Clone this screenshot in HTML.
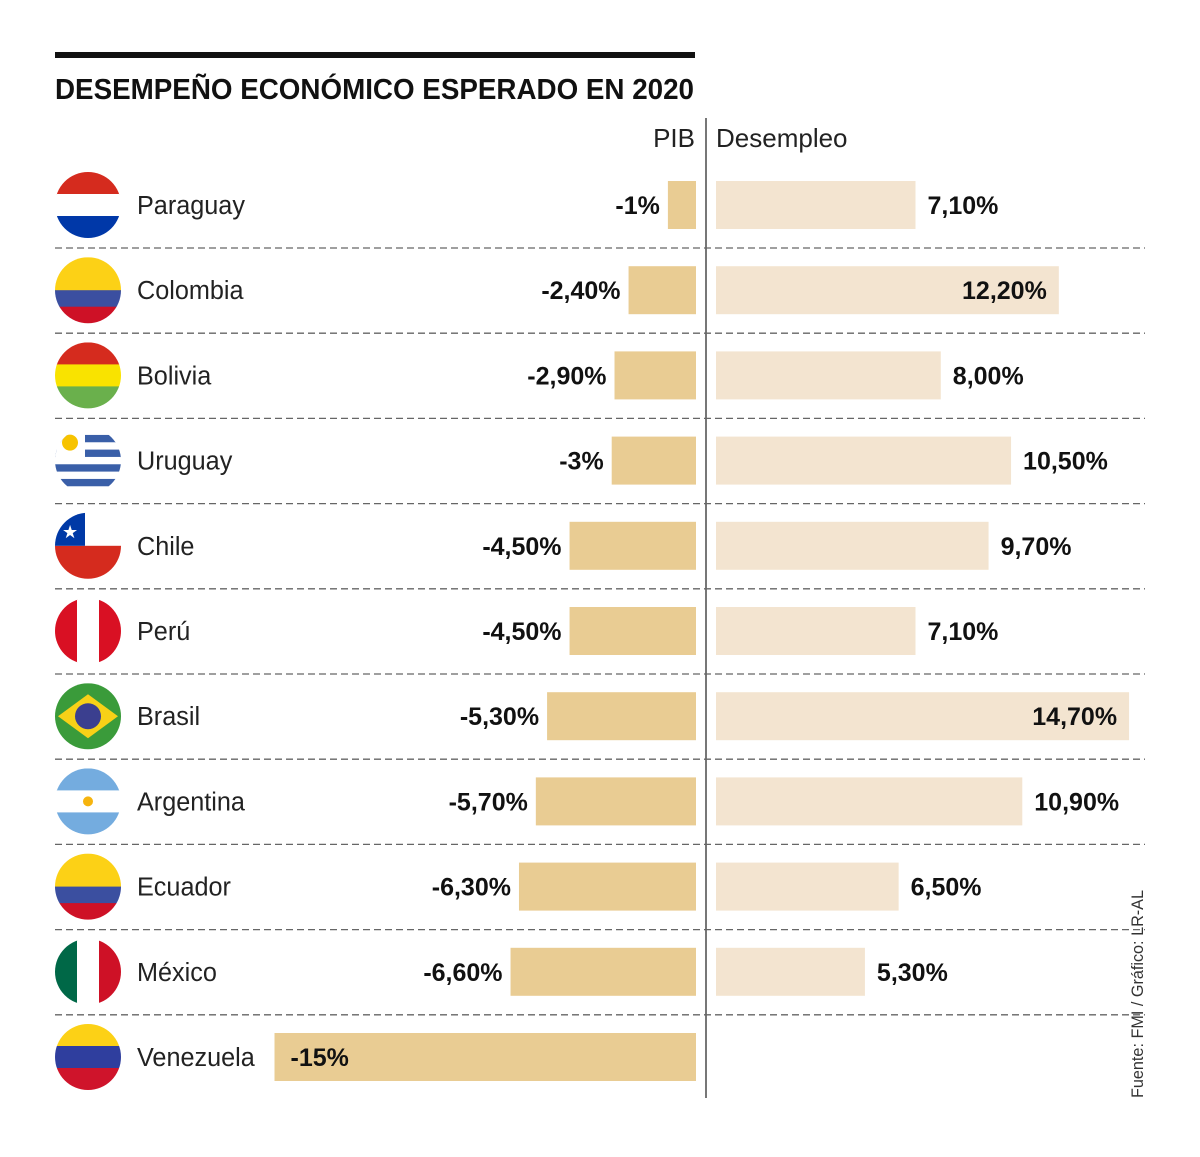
<!DOCTYPE html>
<html><head><meta charset="utf-8"><style>
body{margin:0;background:#fff;font-family:"Liberation Sans",sans-serif}
svg text{font-family:"Liberation Sans",sans-serif}
</style></head><body>
<svg id="c" width="1200" height="1152" xmlns="http://www.w3.org/2000/svg">
<defs><clipPath id="cc"><circle cx="0" cy="0" r="33"/></clipPath></defs>
<rect x="55" y="52" width="640" height="6" fill="#111"/>
<text x="55" y="99" font-size="29" font-weight="bold" fill="#111" textLength="639" lengthAdjust="spacingAndGlyphs">DESEMPEÑO ECONÓMICO ESPERADO EN 2020</text>
<text x="695" y="147" font-size="26" text-anchor="end" fill="#222">PIB</text>
<text x="716" y="147" font-size="26" fill="#222">Desempleo</text>
<line x1="706" y1="118" x2="706" y2="1098" stroke="#777" stroke-width="2"/>
<text transform="translate(1143,1098) rotate(-90)" font-size="17" fill="#333" textLength="208" lengthAdjust="spacingAndGlyphs">Fuente: FMI / Gráfico: LR-AL</text>
<g id="rows"></g>
</svg>
<script>
const countries=["Paraguay","Colombia","Bolivia","Uruguay","Chile","Perú","Brasil","Argentina","Ecuador","México","Venezuela"];
const pib=[-1,-2.4,-2.9,-3,-4.5,-4.5,-5.3,-5.7,-6.3,-6.6,-15];
const pibLabels=["-1%","-2,40%","-2,90%","-3%","-4,50%","-4,50%","-5,30%","-5,70%","-6,30%","-6,60%","-15%"];
const desempleo=[7.1,12.2,8.0,10.5,9.7,7.1,14.7,10.9,6.5,5.3,null];
const desLabels=["7,10%","12,20%","8,00%","10,50%","9,70%","7,10%","14,70%","10,90%","6,50%","5,30%",""];
const flags=[
 [["#d52b1e",1],["#fff",1],["#0038a8",1]],
 [["#fcd116",2],["#3b4fa0",1],["#ce1126",1]],
 [["#d52b1e",1],["#f9e300",1],["#6ab04c",1]],
 [["#fff",1],["#3a5fa8",1],["#fff",1],["#3a5fa8",1],["#fff",1],["#3a5fa8",1],["#fff",1],["#3a5fa8",1],["#fff",1]],
 [["#fff",1],["#d52b1e",1]],
 null,
 [["#3a9b3a",1]],
 [["#74acdf",1],["#fff",1],["#74acdf",1]],
 [["#fcd116",2],["#3b4fa0",1],["#ce1126",1]],
 null,
 [["#fcd116",1],["#2f3e9e",1],["#cf142b",1]]
];
const NS="http://www.w3.org/2000/svg";
const g=document.getElementById("rows");
const S=28.1, X0=696, X1=716, Y0=205, DY=85.2, BH=48;
function px(v){return v*S;}
function el(t,a,p){const e=document.createElementNS(NS,t);for(const k in a)e.setAttribute(k,a[k]);(p||g).appendChild(e);return e;}
countries.forEach((c,i)=>{
 const cy=Y0+i*DY;
 const fg=el("g",{transform:`translate(88,${cy})`});
 
 
 const inner=el("g",{"clip-path":"url(#cc)"},fg);
 const f=flags[i];
 if(f){const tot=f.reduce((a,b)=>a+b[1],0);let y=-33;f.forEach(s=>{const h=66*s[1]/tot;el("rect",{x:-33,y:y,width:66,height:h+0.5,fill:s[0]},inner);y+=h;});}
 else{const col=i==5?["#d91023","#fff","#d91023"]:["#006847","#fff","#ce1126"];col.forEach((cl,k)=>el("rect",{x:-33+k*22,y:-33,width:22.5,height:66,fill:cl},inner));}
 if(i==4){el("rect",{x:-33,y:-33,width:30,height:33,fill:"#0039a6"},inner);el("text",{x:-18,y:-8,"font-size":18,fill:"#fff","text-anchor":"middle"},inner).textContent="★";}
 if(i==6){el("polygon",{points:"-30,0 0,-22 30,0 0,22",fill:"#f7d117"},inner);el("circle",{cx:0,cy:0,r:13,fill:"#3b3f8f"},inner);}
 if(i==3){el("rect",{x:-33,y:-33,width:30,height:30,fill:"#fff"},inner);el("circle",{cx:-18,cy:-18,r:8,fill:"#f7c300"},inner);}
 if(i==7){el("circle",{cx:0,cy:0,r:5,fill:"#f6b40e"},inner);}
 const t=el("text",{x:137,y:cy+9,"font-size":26,fill:"#222",transform:`translate(137,0) scale(0.97,1) translate(-137,0)`});t.textContent=c;
 
 
 const w=px(-pib[i]);
 const b=el("rect",{x:X0-w,y:cy-BH/2,width:w,height:BH,fill:"#e9cc93"});
 
 
 const inside=w>300;
 const pl=el("text",{x:inside?X0-w+16:X0-w-8,y:cy+9,"font-size":25,"font-weight":"bold",fill:"#111","text-anchor":inside?"start":"end"});pl.textContent=pibLabels[i];
 
 
 if(desempleo[i]!=null){
  const dw=px(desempleo[i]);
  const d=el("rect",{x:X1,y:cy-BH/2,width:dw,height:BH,fill:"#f3e4d0"});
  
  
  const din=desempleo[i]>12;
  const dl=el("text",{x:din?X1+dw-12:X1+dw+12,y:cy+9,"font-size":25,"font-weight":"bold",fill:"#111","text-anchor":din?"end":"start"});dl.textContent=desLabels[i];
  
  
 }
 if(i<countries.length-1){
  const ln=el("line",{x1:55,x2:1145,y1:cy+43,y2:cy+43,stroke:"#666","stroke-width":1.3,"stroke-dasharray":"7,4"});
  
  
 }
});
</script>
</body></html>
